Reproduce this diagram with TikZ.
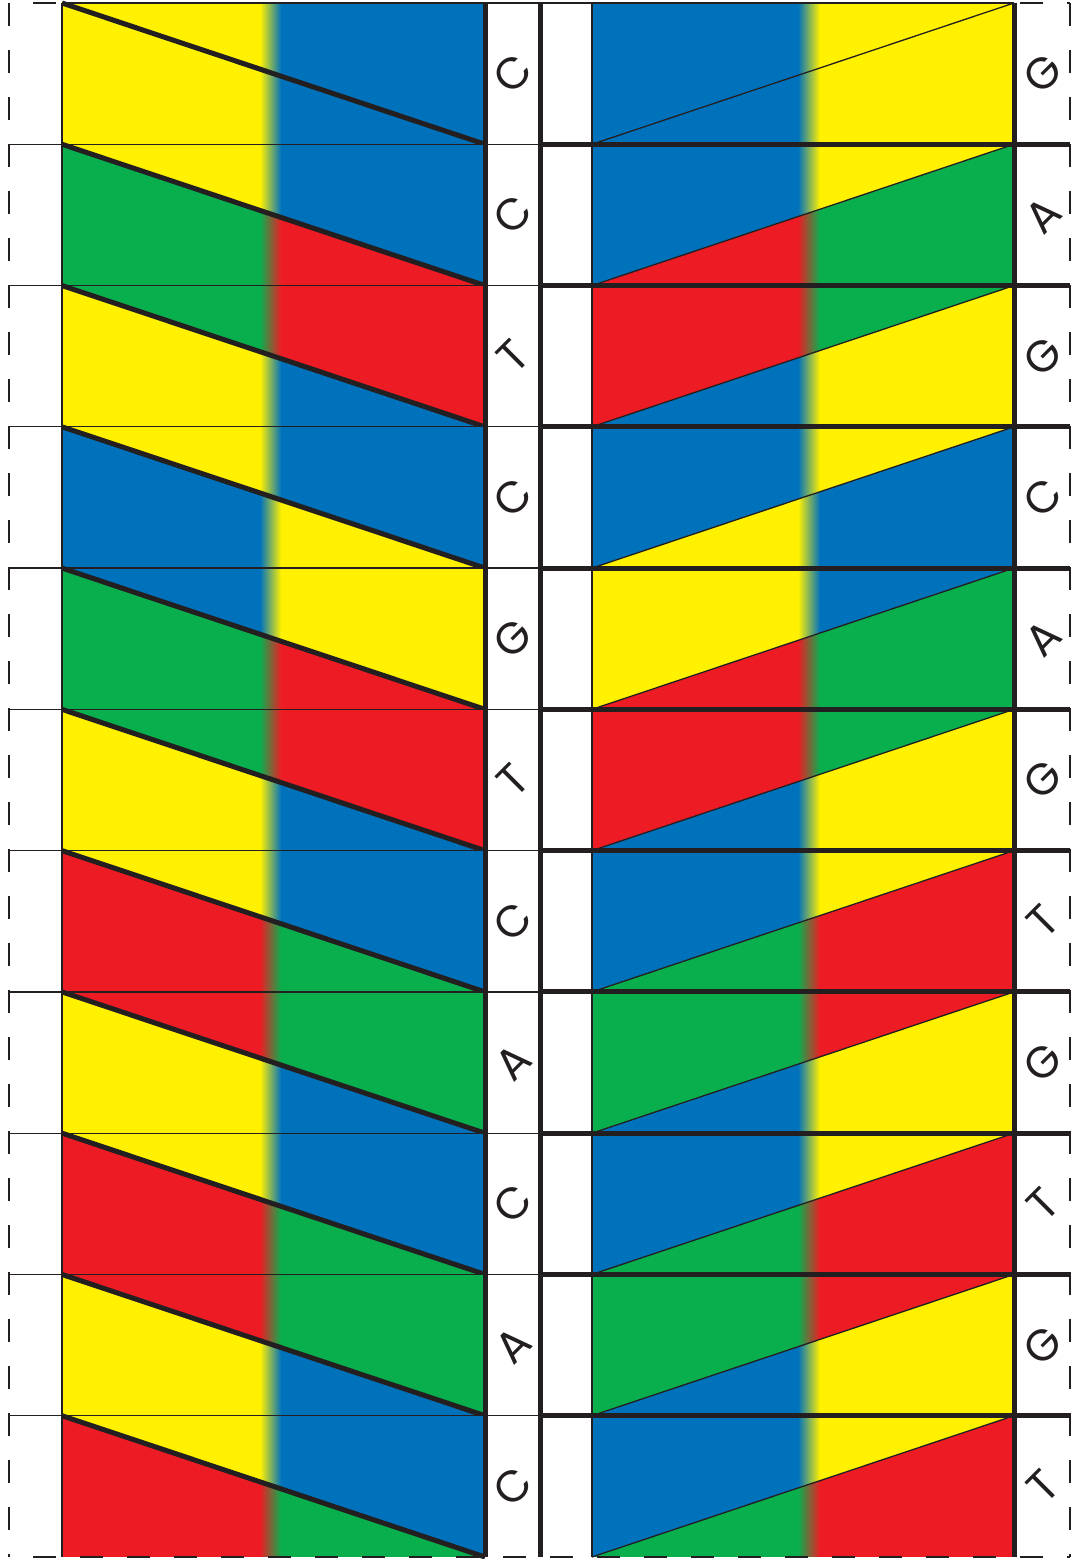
\documentclass[tikz,border=0pt]{standalone}
\usepackage{fontspec}
\setmainfont{Poppins}
\definecolor{cyel}{RGB}{255,241,0}
\definecolor{cblu}{RGB}{0,114,188}
\definecolor{cgrn}{RGB}{10,175,77}
\definecolor{cred}{RGB}{237,28,36}
\definecolor{ink}{RGB}{35,31,32}
\colorlet{cl}{white}
\colorlet{cr}{white}
\pgfdeclarehorizontalshading[cl,cr]{lsplit}{100bp}{color(0bp)=(cl); color(48.4bp)=(cl); color(50.9bp)=(cr); color(100bp)=(cr)}
\pgfdeclarehorizontalshading[cl,cr]{rsplit}{100bp}{color(0bp)=(cl); color(49.4bp)=(cl); color(52bp)=(cr); color(100bp)=(cr)}

\begin{document}
\begin{tikzpicture}[x=1pt,y=-1pt,
  thinline/.style={ink,line width=1.3pt},
  thickline/.style={ink,line width=5pt},
  dashframe/.style={ink,line width=1.6pt,dash pattern=on 23pt off 24pt},
  lhalves/.style 2 args={/utils/exec={\colorlet{cl}{#1}\colorlet{cr}{#2}},shading=lsplit},
  rhalves/.style 2 args={/utils/exec={\colorlet{cl}{#1}\colorlet{cr}{#2}},shading=rsplit},
  baselab/.style={font=\fontsize{44}{44}\selectfont,text=ink,rotate=45,inner sep=0pt}]
  \useasboundingbox[fill=white] (0,0) rectangle (1074,1559);
  % left strand
  \foreach \i/\ua/\ub/\da/\db/\lab in {1/cyel/cblu/cyel/cblu/C,2/cyel/cblu/cgrn/cred/C,3/cgrn/cred/cyel/cblu/T,4/cyel/cblu/cblu/cyel/C,5/cblu/cyel/cgrn/cred/G,6/cgrn/cred/cyel/cblu/T,7/cyel/cblu/cred/cgrn/C,8/cred/cgrn/cyel/cblu/A,9/cyel/cblu/cred/cgrn/C,10/cred/cgrn/cyel/cblu/A,11/cyel/cblu/cred/cgrn/C}{
    \pgfmathsetmacro\yt{3+141.27*(\i-1)}
    \pgfmathsetmacro\yb{\yt+141.27}
    \shade[lhalves={\da}{\db}] (62,\yt) rectangle (485,\yb);
    \shade[lhalves={\ua}{\ub}] (62,\yt) -- (485,\yt) -- (485,\yb) -- cycle;
    \draw[thickline] (62,\yt) -- (485,\yb);
    \node[baselab] (lab-l-\i) at (513,\yt+70.6) {\lab};
  }
  % right strand
  \foreach \i/\ua/\ub/\da/\db/\lab in {1/cblu/cyel/cblu/cyel/G,2/cblu/cyel/cred/cgrn/A,3/cred/cgrn/cblu/cyel/G,4/cblu/cyel/cyel/cblu/C,5/cyel/cblu/cred/cgrn/A,6/cred/cgrn/cblu/cyel/G,7/cblu/cyel/cgrn/cred/T,8/cgrn/cred/cblu/cyel/G,9/cblu/cyel/cgrn/cred/T,10/cgrn/cred/cblu/cyel/G,11/cblu/cyel/cgrn/cred/T}{
    \pgfmathsetmacro\yt{3+141.27*(\i-1)}
    \pgfmathsetmacro\yb{\yt+141.27}
    \shade[rhalves={\da}{\db}] (592,\yt) rectangle (1014,\yb);
    \shade[rhalves={\ua}{\ub}] (592,\yt) -- (1014,\yt) -- (592,\yb) -- cycle;
    \draw[thinline] (592,\yb) -- (1014,\yt);
    \node[baselab] (lab-r-\i) at (1043,\yt+70.6) {\lab};
  }
  % row borders
  \draw[thinline] (62,3) -- (1014,3);
  \foreach \i in {1,...,10}{
    \draw[thinline] (9,3+141.27*\i) -- (540,3+141.27*\i);
    \draw[thickline] (540,3+141.27*\i) -- (1070,3+141.27*\i);
  }
  \foreach \x in {62,592} \draw[thinline] (\x,3) -- (\x,1557);
  \foreach \x in {485,540,1014} \draw[thickline] (\x,3) -- (\x,1557);
  % cutting frame
  \draw[dashframe] (9,3) -- (9,1557);
  \draw[dashframe] (1070,3) -- (1070,1557);
  \draw[dashframe,dash phase=23pt] (9,3) -- (1070,3);
  \draw[dashframe,dash phase=23pt] (9,1557) -- (1070,1557);
\end{tikzpicture}
\end{document}
